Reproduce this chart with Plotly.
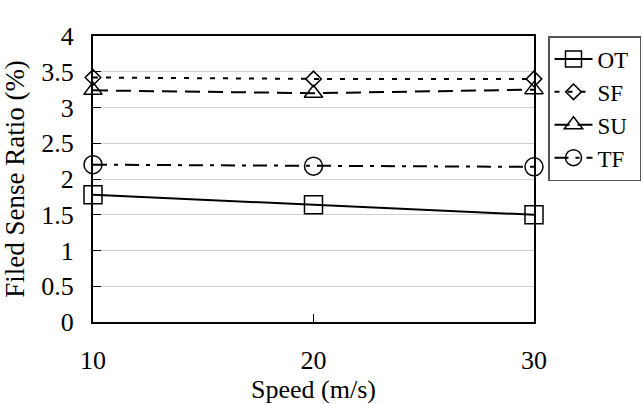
import plotly.graph_objects as go

speed = [10, 20, 30]
ot = [1.78, 1.64, 1.50]
sf = [3.42, 3.40, 3.40]
su = [3.24, 3.20, 3.25]
tf = [2.20, 2.18, 2.17]

FONT = "Liberation Serif"
PAD = "\u00a0"

series = [
    ("OT", ot, "square-open", 18, "solid"),
    ("SF", sf, "diamond-open", 12, "5px,8px"),
    ("SU", su, "triangle-up-open", 16, "15px,8px"),
    ("TF", tf, "circle-open", 18, "14px,7px,4px,7px"),
]

fig = go.Figure()
for name, vals, sym, size, dash in series:
    fig.add_trace(go.Scatter(
        x=speed, y=vals, name=name + PAD, mode="lines+markers",
        line=dict(color="black", width=2, dash=dash),
        marker=dict(symbol=sym, size=size, color="black", line=dict(width=1.5, color="black")),
        cliponaxis=False,
    ))

L, R = 93, 2
W = 643
pw = W - L - R
dom_end = (534 - L) / pw

fig.update_layout(
    template="none",
    width=W, height=404,
    margin=dict(l=L, r=R, t=36, b=82, autoexpand=False),
    paper_bgcolor="white", plot_bgcolor="white",
    font=dict(family=FONT, size=26, color="black"),
    showlegend=True,
    legend=dict(
        x=1.0, y=1.0, xanchor="right", yanchor="top",
        bordercolor="#555555", borderwidth=1.5,
        font=dict(family=FONT, size=23, color="black"),
        itemwidth=38, tracegroupgap=0,
    ),
)
fig.update_xaxes(
    domain=[0, dom_end], automargin=False,
    range=[10, 30], tickvals=speed, ticktext=[str(s) for s in speed],
    ticks="inside", ticklen=8, tickcolor="black",
    showline=True, linecolor="black", linewidth=2, mirror=True,
    showgrid=False, zeroline=False,
    ticklabelstandoff=14,
    tickfont=dict(family=FONT, size=26),
    title=dict(text="Speed (m/s)", font=dict(family=FONT, size=26), standoff=0),
)
fig.update_yaxes(
    range=[0, 4], dtick=0.5, automargin=False,
    ticks="inside", ticklen=8, tickcolor="black",
    showline=True, linecolor="black", linewidth=2, mirror=True,
    showgrid=True, gridcolor="#d0d0d0", gridwidth=1, zeroline=False,
    ticklabelstandoff=12,
    tickfont=dict(family=FONT, size=26),
    title=dict(text="Filed Sense Ratio (%)", font=dict(family=FONT, size=27), standoff=10),
)

fig.write_html("out.html")
